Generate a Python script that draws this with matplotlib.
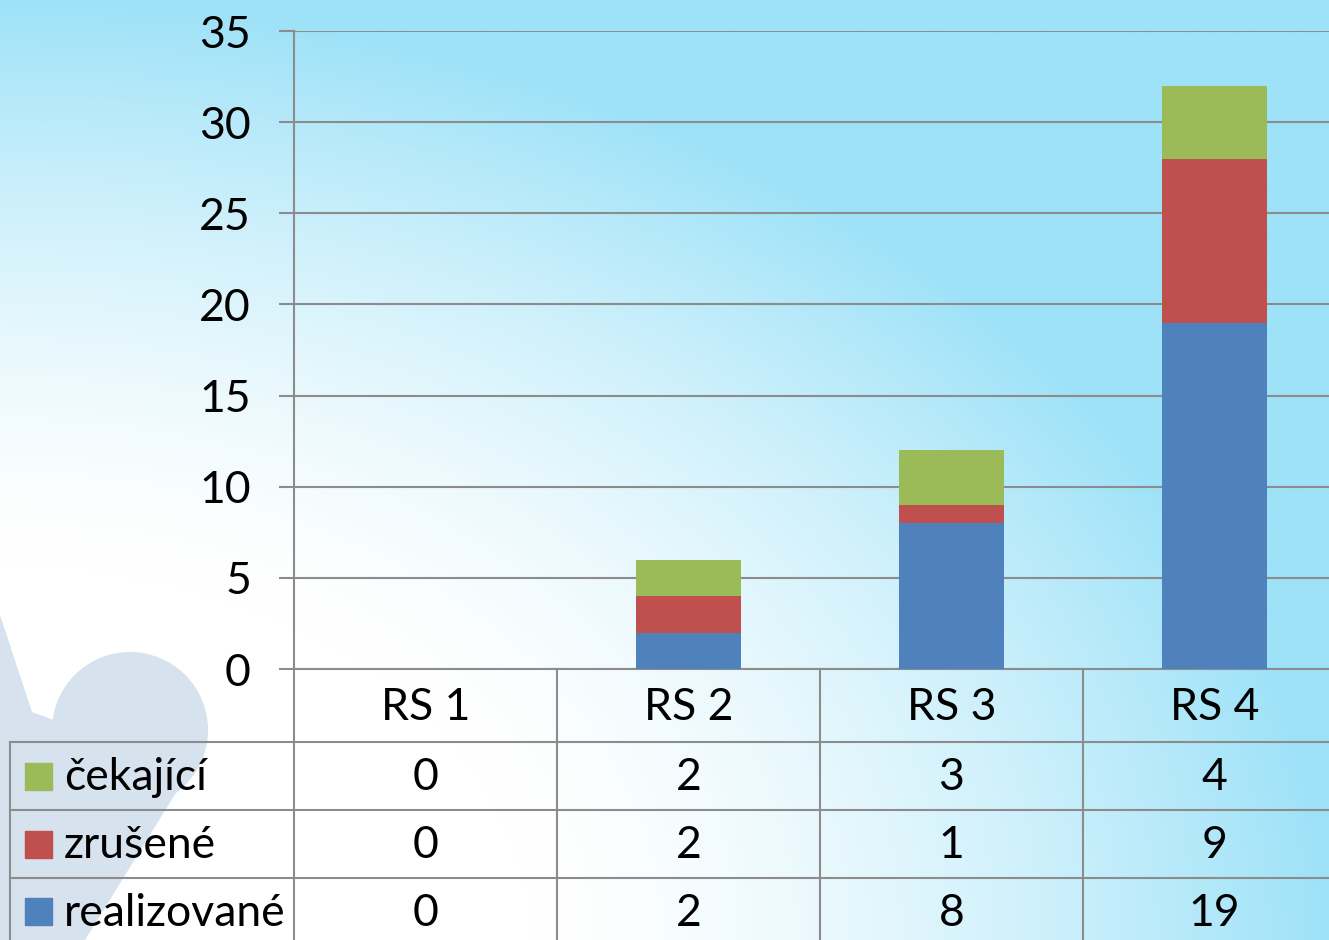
# Stacked bars with a data table below (RS 1 - RS 4)

import numpy as np
import matplotlib.pyplot as plt
from matplotlib.patches import Circle, Polygon, Rectangle
from matplotlib.transforms import blended_transform_factory

categories = ["RS 1", "RS 2", "RS 3", "RS 4"]
realizovane = [0, 2, 8, 19]
zrusene = [0, 2, 1, 9]
cekajici = [0, 2, 3, 4]
yticks = [0, 5, 10, 15, 20, 25, 30, 35]

# table rows, top to bottom
rows = [("čekající", cekajici, "#9bbb59"),
        ("zrušené", zrusene, "#c0504d"),
        ("realizované", realizovane, "#4f81bd")]

plt.rcParams['font.family'] = ['Lato', 'DejaVu Sans']

W, H = 1329, 940
LINE = "#8c8c8c"
FS = 32
fig = plt.figure(figsize=(W / 100, H / 100), dpi=100)

# background gradient (white at bottom left, blue elsewhere) and pale logo shape
bg = fig.add_axes([0, 0, 1, 1], zorder=-10)
bg.set_xlim(0, W)
bg.set_ylim(H, 0)
bg.axis('off')
u = np.linspace(0, 1, 400)[None, :]
v = np.linspace(1, 0, 300)[:, None]
d = np.sqrt(u ** 2 + v ** 2)
t = np.clip((d - 0.4) / 0.6, 0, 1) ** 1.5
white = np.array([1.0, 1.0, 1.0])
blue = np.array([158, 226, 248]) / 255
bg.imshow(white + (blue - white) * t[..., None], extent=(0, W, H, 0),
          aspect='auto', interpolation='bilinear')
shape_c = "#d6e2ed"
bg.add_patch(Circle((130, 730), 78, color=shape_c, lw=0))
bg.add_patch(Polygon([(0, 615), (32, 712), (190, 770), (85, 940), (0, 940)],
                     color=shape_c, lw=0))

# main axes: 263 px per category, runs off the right edge like the original
left, bottom, top = 294, 669, 31
ax = fig.add_axes([left / W, (H - bottom) / H, 4 * 263 / W, (bottom - top) / H])
ax.set_facecolor('none')
x = np.arange(len(categories))
b1 = np.array(realizovane)
b2 = b1 + np.array(zrusene)
ax.bar(x, realizovane, width=0.4, color="#4f81bd", zorder=3)
ax.bar(x, zrusene, width=0.4, bottom=b1, color="#c0504d", zorder=3)
ax.bar(x, cekajici, width=0.4, bottom=b2, color="#9bbb59", zorder=3)

ax.set_xlim(-0.5, 3.5)
ax.set_ylim(0, 35)
ax.set_yticks(yticks)
ax.set_xticks([])
ax.yaxis.grid(True, color=LINE, lw=1.5, zorder=1)
ax.tick_params(axis='y', length=11, width=1.5, color=LINE, pad=20,
               labelsize=FS)
for s in ['top', 'right']:
    ax.spines[s].set_visible(False)
for s in ['left', 'bottom']:
    ax.spines[s].set_color(LINE)
    ax.spines[s].set_linewidth(1.5)
ax.spines['left'].set_bounds(0, 35)

# data table below the axes, rows in pixel positions
ph = bottom - top
def fy(pix):
    return -(pix - bottom) / ph

tr = blended_transform_factory(ax.transData, ax.transAxes)
tr_fig = blended_transform_factory(fig.transFigure, ax.transAxes)
row_lines = [742, 810, 878]
kw = dict(color=LINE, lw=1.5, clip_on=False)

# vertical lines
for i in range(len(categories)):
    ax.plot([i - 0.5, i - 0.5], [0, fy(945)], transform=tr, **kw)
ax.plot([10 / W, 10 / W], [fy(742), fy(945)], transform=tr_fig, **kw)
# horizontal lines
for r in row_lines:
    ax.plot([10 / W, 1], [fy(r), fy(r)], transform=tr_fig, **kw)

# header labels
for i, c in enumerate(categories):
    ax.text(i, fy(708), c, transform=tr, ha='center', va='center',
            fontsize=FS, clip_on=False)

# row labels, swatches and values
centers = [778, 846, 913]
for (name, vals, col), cy in zip(rows, centers):
    ax.add_patch(Rectangle((25 / W, fy(cy + 12)), 27 / W, 27 / ph,
                           transform=tr_fig, color=col, clip_on=False))
    ax.text(64 / W, fy(cy), name, transform=tr_fig, ha='left', va='center',
            fontsize=FS, clip_on=False)
    for i, val in enumerate(vals):
        ax.text(i, fy(cy), str(val), transform=tr, ha='center', va='center',
                fontsize=FS, clip_on=False)

fig.savefig("out.png", dpi=100)
